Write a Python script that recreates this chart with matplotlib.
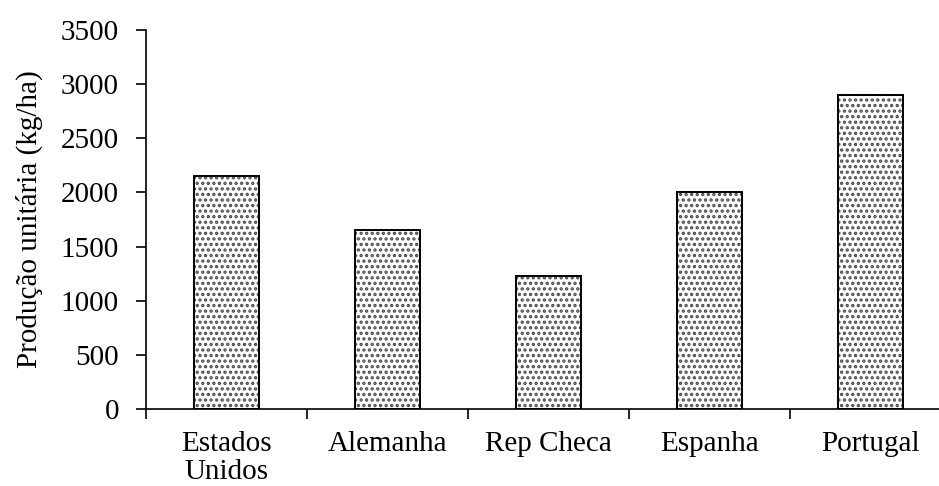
import numpy as np
import matplotlib.pyplot as plt

paises = ['Estados\nUnidos', 'Alemanha', 'Rep Checa', 'Espanha', 'Portugal']
producao = [2150, 1650, 1230, 2000, 2900]

plt.rcParams['font.family'] = ['Liberation Serif', 'DejaVu Serif']
plt.rcParams['hatch.linewidth'] = 1.6

fig = plt.figure(figsize=(9.39, 4.86), dpi=100)
ax = fig.add_axes([0.1555, 0.1584, 0.8445, 0.78])

x = np.arange(len(paises))
bars = ax.bar(x, producao, width=0.4, color='white', edgecolor='black',
              linewidth=1.4, hatch='...')
for b in bars:
    b._hatch_color = (0.3, 0.3, 0.3, 1.0)

ax.set_xlim(-0.5, 4.425)
ax.set_ylim(0, 3500)
ax.set_yticks(np.arange(0, 3501, 500))
ax.set_xticks(x)
ax.set_xticklabels(paises, fontsize=21, linespacing=1.1)
ax.set_xticks(np.arange(-0.5, 4.5, 1), minor=True)
ax.tick_params(axis='x', which='major', length=0, pad=16)
ax.tick_params(axis='x', which='minor', length=7, width=1.2, direction='out')
ax.tick_params(axis='y', length=7, width=1.2, direction='out', labelsize=21, pad=12.5)
ax.set_ylabel('Produção unitária (kg/ha)', fontsize=21, labelpad=13)

for s in ['top', 'right']:
    ax.spines[s].set_visible(False)
for s in ['left', 'bottom']:
    ax.spines[s].set_linewidth(1.2)

fig.savefig('out.png', dpi=100)
